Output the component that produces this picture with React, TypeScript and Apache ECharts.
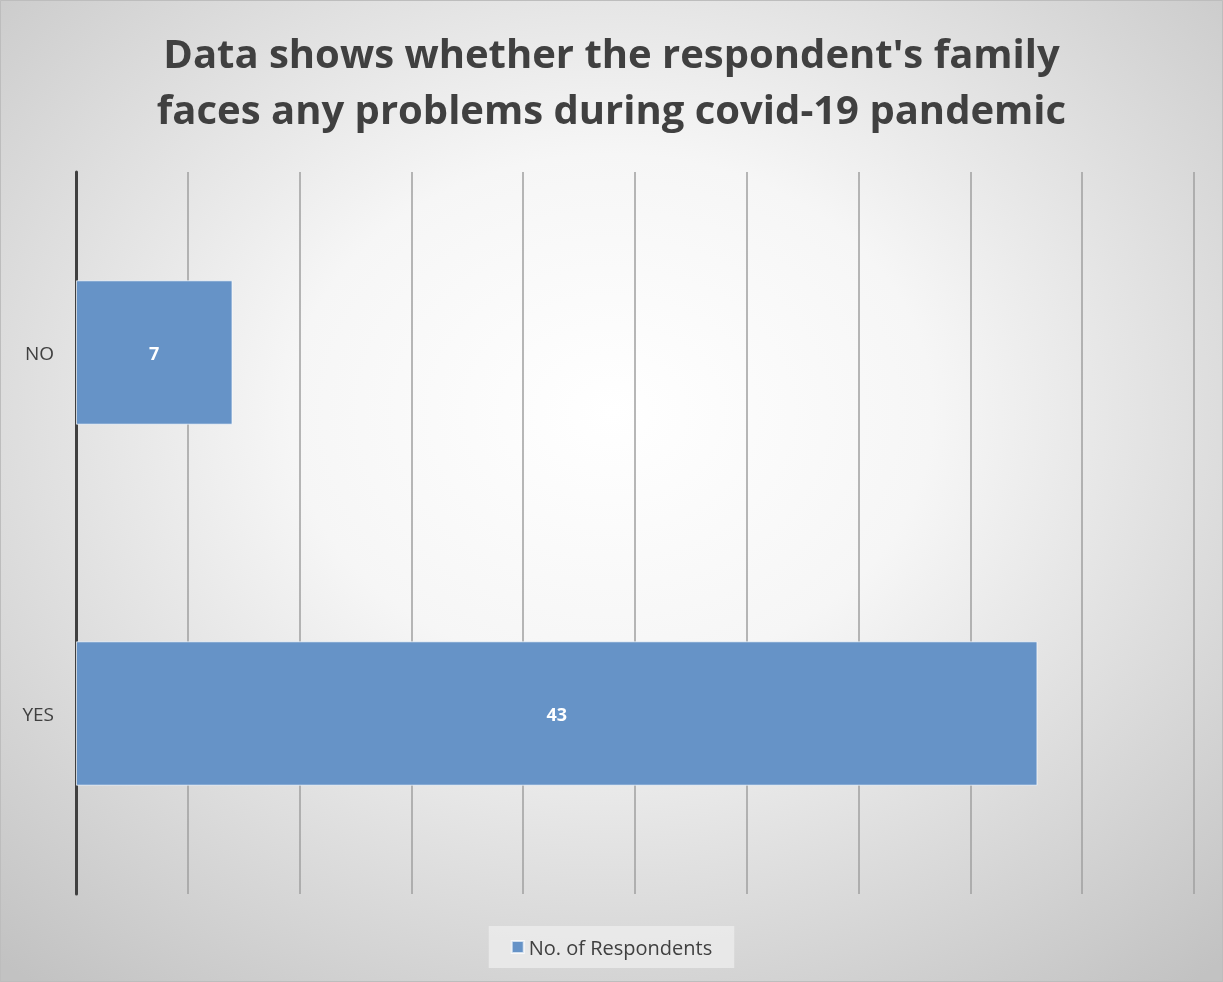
import React, { useEffect, useRef } from "react";
import * as echarts from "echarts";

const categories = ["NO", "YES"];
const respondents = [7, 43];
const seriesName = "No. of Respondents";
const titleText = "Data shows whether the respondent's family\nfaces any problems during covid-19 pandemic";

export default function App() {
  const ref = useRef<HTMLDivElement>(null);
  useEffect(() => {
    if (!ref.current) return;
    const chart = echarts.init(ref.current, undefined, { renderer: "svg" });
    chart.setOption({
      animation: false,
      backgroundColor: {
        type: "radial",
        x: 0.5,
        y: 0.42,
        r: 0.75,
        colorStops: [
          { offset: 0, color: "#ffffff" },
          { offset: 0.35, color: "#f6f6f6" },
          { offset: 1, color: "#c2c2c2" },
        ],
      },
      graphic: [
        {
          type: "rect",
          shape: { x: 0.5, y: 0.5, width: 1222, height: 981 },
          style: { fill: "none", stroke: "#bdbdbd", lineWidth: 1 },
          silent: true,
        },
      ],
      title: {
        text: titleText,
        left: "center",
        top: 19,
        textStyle: {
          fontFamily: "Open Sans",
          fontWeight: "bold",
          fontSize: 40,
          lineHeight: 56,
          color: "#404040",
        },
      },
      legend: {
        bottom: 14,
        left: "center",
        itemWidth: 12,
        itemHeight: 12,
        itemGap: 6,
        padding: [11, 22, 11, 22],
        backgroundColor: "rgba(240,240,240,0.7)",
        icon: "rect",
        textStyle: { fontFamily: "Open Sans", fontSize: 20, color: "#404040" },
        data: [seriesName],
      },
      grid: { left: 76, right: 29, top: 172, bottom: 88, containLabel: false },
      xAxis: {
        type: "value",
        min: 0,
        max: 50,
        interval: 5,
        axisLabel: { show: false },
        axisLine: { show: false },
        axisTick: { show: false },
        splitLine: { show: true, lineStyle: { color: "#9f9f9f", width: 1.5 } },
      },
      yAxis: {
        type: "category",
        inverse: true,
        data: categories,
        axisTick: { show: false },
        axisLine: { show: true, lineStyle: { color: "#404040", width: 3 } },
        axisLabel: {
          fontFamily: "Open Sans",
          fontSize: 19,
          color: "#404040",
          margin: 22,
        },
      },
      series: [
        {
          name: seriesName,
          type: "bar",
          data: respondents,
          barCategoryGap: "60%",
          itemStyle: {
            color: "#6693c7",
            borderColor: "rgba(255,255,255,0.7)",
            borderWidth: 1,
          },
          label: {
            show: true,
            position: "inside",
            fontFamily: "Open Sans",
            fontWeight: "bold",
            fontSize: 18,
            color: "#ffffff",
          },
        },
      ],
    });
    return () => chart.dispose();
  }, []);
  return (
    <div
      ref={ref}
      style={{ position: "fixed", left: 0, top: 0, width: 1223, height: 982 }}
    />
  );
}
